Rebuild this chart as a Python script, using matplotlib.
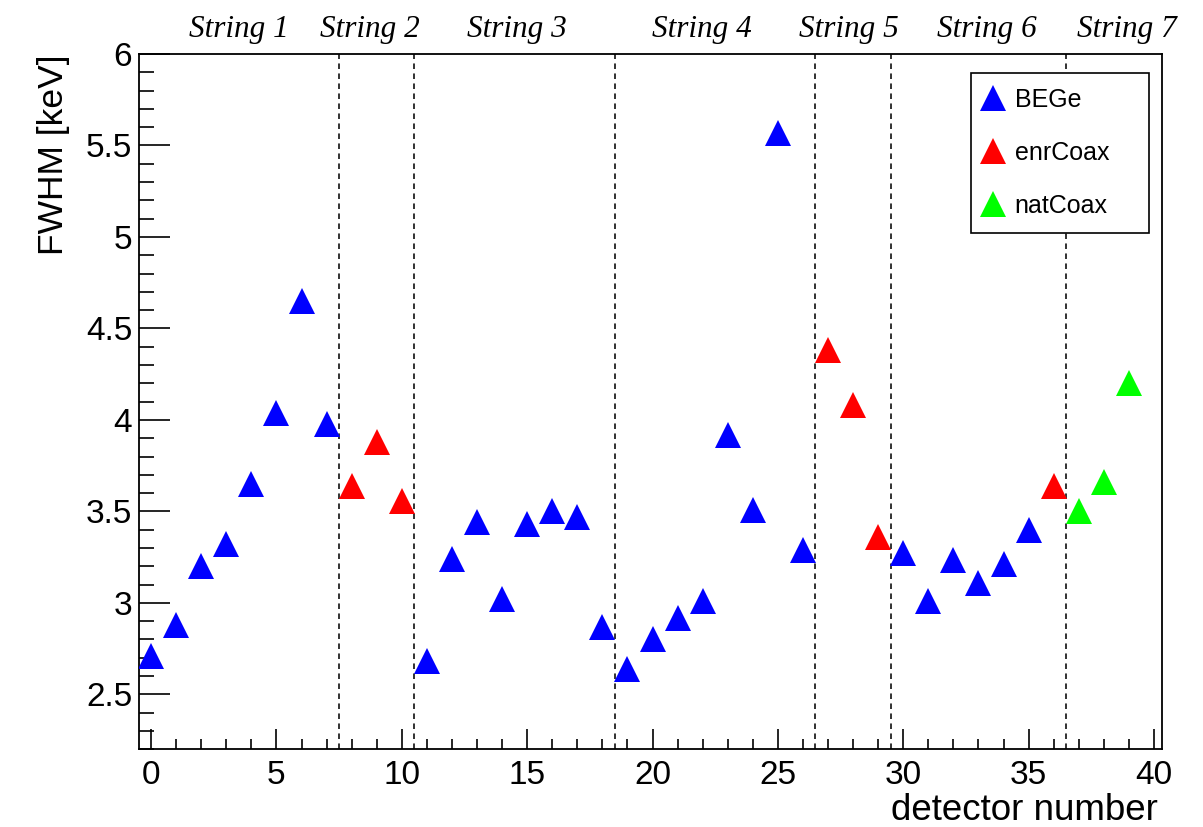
import matplotlib
matplotlib.use("Agg")
import matplotlib.pyplot as plt
from matplotlib.ticker import MultipleLocator
import matplotlib.transforms as mtransforms

plt.rcParams['font.family'] = ['Liberation Sans', 'DejaVu Sans']
plt.rcParams['lines.scale_dashes'] = False

# FWHM per detector
fwhm = [2.71, 2.88, 3.20, 3.32, 3.65, 4.04, 4.65, 3.98,
        3.64, 3.88, 3.555,
        2.68, 3.24, 3.44, 3.02, 3.43, 3.50, 3.47, 2.87,
        2.64, 2.80, 2.92, 3.01, 3.92, 3.51, 5.57, 3.29,
        4.38, 4.08, 3.36,
        3.27, 3.01, 3.235, 3.11, 3.21, 3.40,
        3.64, 3.50, 3.66, 4.20]
det_type = (['BEGe'] * 8 + ['enrCoax'] * 3 + ['BEGe'] * 16 + ['enrCoax'] * 3
            + ['BEGe'] * 6 + ['enrCoax'] + ['natCoax'] * 3)
type_names = ['BEGe', 'enrCoax', 'natCoax']
type_colors = ['#0000ff', '#ff0000', '#00ff00']

# string boundaries and label positions
string_edges = [7.5, 10.5, 18.5, 26.5, 29.5, 36.5]
string_labels = ['String 1', 'String 2', 'String 3', 'String 4',
                 'String 5', 'String 6', 'String 7']
string_label_x = [3.51, 8.74, 14.6, 21.98, 27.84, 33.35, 38.9]

fig = plt.figure(figsize=(12.03, 8.27), dpi=100)
ax = fig.add_axes([0.1158, 0.0940, 0.8499, 0.8407])

for name, col in zip(type_names, type_colors):
    xs = [i for i, t in enumerate(det_type) if t == name]
    ys = [fwhm[i] for i in xs]
    ax.plot(xs, ys, linestyle='none', marker='^', markersize=18.5,
            color=col, markeredgewidth=0, label=name, zorder=3)

for xe in string_edges:
    ax.axvline(xe, color='#222222', lw=1.3, linestyle=(0, (4, 3.2)), zorder=2)

ax.set_xlim(-0.47, 40.31)
ax.set_ylim(2.2, 6.0)

ax.xaxis.set_major_locator(MultipleLocator(5))
ax.xaxis.set_minor_locator(MultipleLocator(1))
ax.yaxis.set_major_locator(MultipleLocator(0.5))
ax.yaxis.set_minor_locator(MultipleLocator(0.1))
ax.yaxis.set_major_formatter(plt.FuncFormatter(lambda v, p: f'{v:g}'))

ax.tick_params(axis='both', which='both', direction='in', top=False, right=False,
               width=1.2, labelsize=24)
ax.tick_params(axis='y', which='major', length=22, pad=5)
ax.tick_params(axis='y', which='minor', length=11)
ax.tick_params(axis='x', which='major', length=14.5, pad=8)
ax.tick_params(axis='x', which='minor', length=7.3)
for sp in ax.spines.values():
    sp.set_linewidth(1.3)

ax.set_xlabel('detector number', fontsize=26.5, ha='right')
ax.xaxis.set_label_coords(0.996, -0.0625)
ax.set_ylabel('FWHM [keV]', fontsize=25.5, ha='right')
ax.yaxis.set_label_coords(-0.068, 1.0)

trans = mtransforms.blended_transform_factory(ax.transData, fig.transFigure)
for lx, lab in zip(string_label_x, string_labels):
    ax.text(lx, 1 - 37 / 827, lab, transform=trans, ha='center', va='baseline',
            fontsize=22.5, family=['Liberation Serif', 'DejaVu Serif'],
            style='italic', clip_on=False)

leg = ax.legend(loc='upper left', bbox_to_anchor=(0.8132, 0.7483, 0.1747, 0.2248),
                mode='expand', borderaxespad=0, fontsize=18, frameon=True,
                fancybox=False, edgecolor='black', framealpha=1,
                borderpad=0.6, handlelength=0.56, handletextpad=0.6,
                labelspacing=1.17)
leg.get_frame().set_linewidth(1.2)

fig.savefig('out.png', dpi=100)
